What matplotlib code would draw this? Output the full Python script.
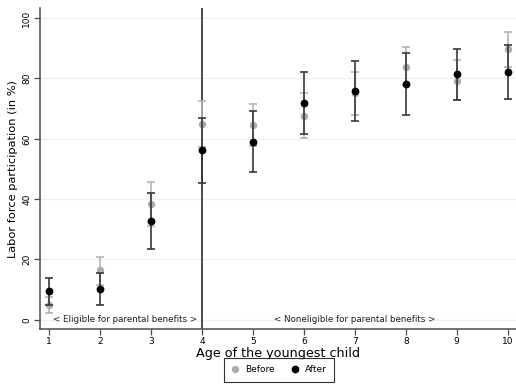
"""Labor force participation by age of the youngest child, before vs after the reform."""

import matplotlib

matplotlib.use("Agg")

import matplotlib.pyplot as plt  # noqa: E402
import numpy as np  # noqa: E402
from matplotlib.lines import Line2D  # noqa: E402

ages = [1, 2, 3, 4, 5, 6, 7, 8, 9, 10]

before_mean = [5.0, 16.4, 38.3, 65.0, 64.5, 67.6, 75.1, 83.9, 79.2, 89.6]
before_low = [2.3, 11.5, 31.0, 57.3, 57.7, 60.1, 67.9, 77.8, 72.8, 83.7]
before_high = [7.6, 20.7, 45.6, 72.6, 71.5, 75.3, 82.2, 90.5, 86.1, 95.5]

after_mean = [9.4, 10.3, 32.8, 56.3, 59.0, 71.7, 75.9, 78.1, 81.4, 82.2]
after_low = [4.8, 4.8, 23.5, 45.4, 48.9, 61.6, 65.9, 67.8, 72.8, 73.3]
after_high = [13.9, 15.6, 41.9, 67.0, 69.2, 82.0, 85.9, 88.5, 89.8, 91.1]

y_ticks = [0, 20, 40, 60, 80, 100]
cutoff_age = 4

GRID = "#eaf2f3"
AXIS = "#4d4d4d"
BEFORE_C = "#ababab"
AFTER_C = "black"


def _err(mean, low, high):
    m = np.asarray(mean)
    return np.vstack([m - np.asarray(low), np.asarray(high) - m])


fig = plt.figure(figsize=(5.16, 3.89), dpi=100)
ax = fig.add_axes([0.077, 0.154, 0.923, 0.825])

for y in y_ticks:
    ax.axhline(y, color=GRID, linewidth=0.9, zorder=0)

ax.axvline(cutoff_age, color="#3c3c3c", linewidth=1.3, zorder=1)

ax.errorbar(ages, before_mean, yerr=_err(before_mean, before_low, before_high),
            fmt="o", color=BEFORE_C, ecolor="#b4b4b4", elinewidth=1.2, capsize=2.6,
            capthick=1.2, markersize=4.3, zorder=2)
ax.errorbar(ages, after_mean, yerr=_err(after_mean, after_low, after_high),
            fmt="o", color=AFTER_C, ecolor="#383838", elinewidth=1.2, capsize=2.6,
            capthick=1.2, markersize=4.6, zorder=3)

ax.text(2.5, 0, "< Eligible for parental benefits >", ha="center", va="center",
        fontsize=6.3, color="#222222", zorder=4)
ax.text(7.0, 0, "< Noneligible for parental benefits >", ha="center", va="center",
        fontsize=6.3, color="#222222", zorder=4)

ax.set_xlim(0.818, 10.163)
ax.set_ylim(-3.1, 103.3)
ax.set_xticks(ages)
ax.set_yticks(y_ticks)
ax.set_yticklabels([str(v) for v in y_ticks], rotation=90, va="center")
ax.tick_params(axis="both", labelsize=6.5, length=4, width=0.9, color=AXIS, pad=2)
ax.tick_params(axis="x", pad=1.5)

for side in ("top", "right"):
    ax.spines[side].set_visible(False)
for side in ("left", "bottom"):
    ax.spines[side].set_color(AXIS)
    ax.spines[side].set_linewidth(1.1)

ax.set_xlabel("Age of the youngest child", fontsize=9.2, labelpad=1)
ax.set_ylabel("Labor force participation (in %)", fontsize=8.2, labelpad=3)

# legend shows markers only, no error bars
handles = [
    Line2D([], [], marker="o", linestyle="none", color=BEFORE_C, markersize=4.3, label="Before"),
    Line2D([], [], marker="o", linestyle="none", color=AFTER_C, markersize=4.6, label="After"),
]
leg = fig.legend(handles=handles, loc="center", bbox_to_anchor=(0.54, 0.049), ncol=2,
                 fontsize=6.5, frameon=True, fancybox=False, edgecolor="black",
                 handletextpad=0.6, columnspacing=1.7, borderpad=0.8, handlelength=1.0)
leg.get_frame().set_linewidth(0.8)

fig.savefig("out.png", dpi=100)
plt.close(fig)
